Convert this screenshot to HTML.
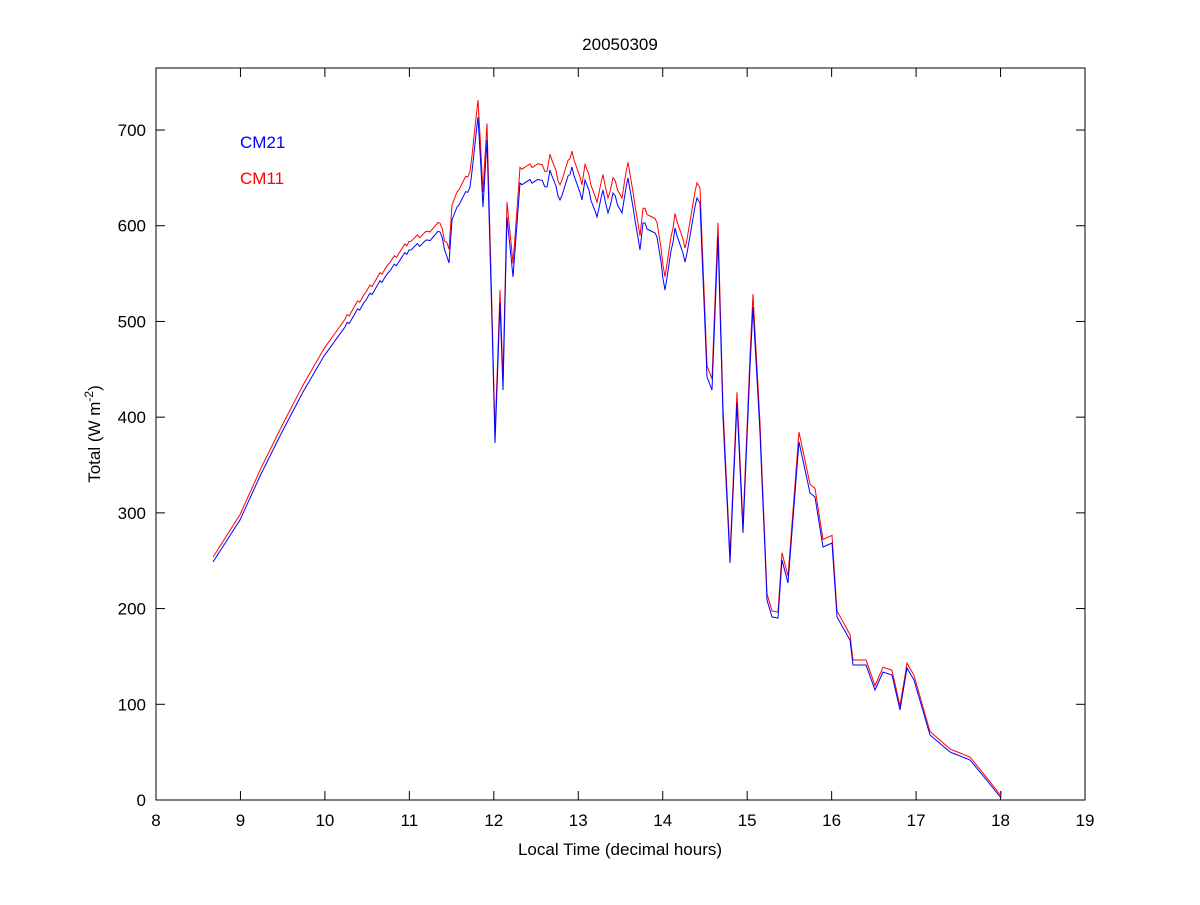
<!DOCTYPE html>
<html><head><style>
body{margin:0;background:#fff;}
svg text{font-family:"Liberation Sans",sans-serif;font-size:17px;}
</style></head><body>
<svg id="s" width="1200" height="900" xmlns="http://www.w3.org/2000/svg">
<rect x="0" y="0" width="1200" height="900" fill="#fff"/>
<rect x="156" y="68" width="929" height="732" fill="none" stroke="#000" stroke-width="1"/>
<g id="ticks" stroke="#000" stroke-width="1"></g>
<g id="labels" fill="#000"></g>
<text x="620" y="50" text-anchor="middle">20050309</text>
<text x="620" y="855" text-anchor="middle">Local Time (decimal hours)</text>
<text transform="translate(100,434) rotate(-90)" text-anchor="middle">Total (W m<tspan dy="-7" font-size="12">-2</tspan><tspan dy="7">)</tspan></text>
<text x="240" y="148" fill="#0000ff">CM21</text>
<text x="240" y="184" fill="#ff0000">CM11</text>
<polyline id="red" fill="none" stroke="#ff0000" stroke-width="1"/>
<polyline id="blue" fill="none" stroke="#0000ff" stroke-width="1"/>
</svg>
<script>
var ns="http://www.w3.org/2000/svg";
var t=document.getElementById('ticks'),l=document.getElementById('labels');
function ln(a,b,c,d){var e=document.createElementNS(ns,'line');e.setAttribute('x1',a);e.setAttribute('y1',b);e.setAttribute('x2',c);e.setAttribute('y2',d);t.appendChild(e);}
function tx(x,y,s,a){var e=document.createElementNS(ns,'text');e.setAttribute('x',x);e.setAttribute('y',y);e.setAttribute('text-anchor',a);e.textContent=s;l.appendChild(e);}
for(var h=8;h<=19;h++){var x=156+(h-8)*929/11;ln(x,800,x,791);ln(x,68,x,77);tx(x,826,h,'middle');}
for(var v=0;v<=700;v+=100){var y=800-v*0.9571;ln(156,y,165,y);ln(1085,y,1076,y);tx(146,y+6,v,'end');}
var b=[[213,562],[240,520],[261,474],[282,432],[303,392],[324,356],[345,327],[366,300],[388,273],[409,250],[428,240],[440,232],[449,263],[452,220],[457,207],[470,187],[478,117],[483,207],[487,140],[492,323],[495,443],[500,303],[503,390],[507,217],[513,277],[520,183],[540,180],[547,187],[550,170],[560,200],[572,167],[582,200],[585,180],[597,217],[603,190],[608,213],[613,193],[622,213],[628,178],[633,207],[640,250],[643,223],[657,237],[665,290],[675,228],[685,262],[697,198],[700,203],[707,377],[712,390],[718,237],[723,417],[730,563],[737,403],[743,533],[750,367],[753,307],[760,433],[767,600],[772,617],[778,618],[782,560],[788,583],[797,467],[799,442],[810,493],[815,497],[823,547],[832,543],[837,617],[850,640],[853,665],[866,665],[875,690],[883,672],[892,675],[900,710],[907,668],[914,680],[930,735],[950,752],[970,760],[985,778],[1001,798]];
var bs=[],rs=[];
for(var i=0;i<b.length;i++){var p=b[i];var n=(i+1<b.length)?b[i+1]:p;
 var steps=Math.max(1,Math.floor((n[0]-p[0])/2));
 for(var k=0;k<steps;k++){var f=k/steps;var x=p[0]+(n[0]-p[0])*f;var y=p[1]+(n[1]-p[1])*f;
  if(p[0]>340&&p[0]<700&&k>0)y+=((k*7919+i*31)%5)-2;
  bs.push(x.toFixed(1)+','+y.toFixed(1));
  var fac=x<445?1.012:1.022;
  var ry=800-(800-y)*fac-2;rs.push(x.toFixed(1)+','+ry.toFixed(1));}
}
bs.push('1001,798');rs.push('1001,791');
document.getElementById('blue').setAttribute('points',bs.join(' '));
document.getElementById('red').setAttribute('points',rs.join(' '));
</script>
</body></html>
